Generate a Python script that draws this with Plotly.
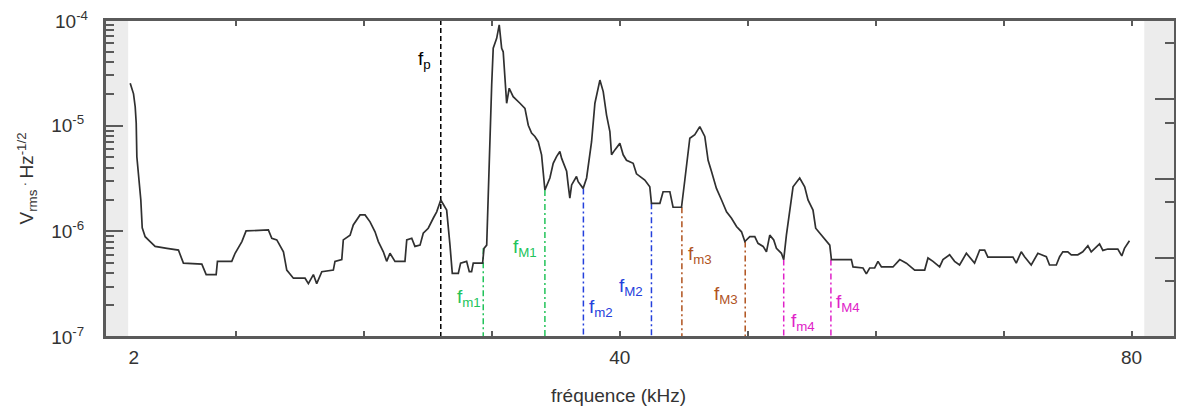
import plotly.graph_objects as go

# spectrum (kHz, V/sqrt(Hz))
freq_khz = [1.72, 1.98, 2.11, 2.19, 2.24, 2.37, 2.55, 2.66, 2.89, 3.28,
            3.67, 4.59, 5.49, 5.88, 7.32, 7.66, 8.44, 8.54, 9.66, 9.92,
            10.45, 10.78, 12.52, 12.79, 13.18, 13.70, 13.96, 14.48, 15.0,
            15.39, 15.65, 16.04, 16.30, 16.70, 17.60, 17.73, 18.26, 18.38, 18.91,
            19.16, 19.69, 20.08, 20.47, 20.86, 21.12, 21.51, 21.77, 22.03, 22.42,
            23.20, 23.34, 23.73, 23.98, 24.38, 24.63, 25.02, 25.41, 25.68, 26.0,
            26.46, 26.72, 26.90, 27.37, 27.55, 28.02, 28.23, 28.41, 28.54, 29.27,
            29.38, 29.59, 29.71, 29.84, 29.98, 30.10, 30.37, 30.57, 30.76, 30.88,
            31.02, 31.15, 31.35, 31.66, 32.19, 32.58, 32.84, 33.10, 33.36, 33.62,
            33.88, 34.01, 34.14, 34.53, 34.79, 35.05, 35.31, 35.45, 35.84, 35.96,
            36.09, 36.23, 36.61, 36.74, 37.13, 37.40, 37.52, 37.79, 38.05, 38.44,
            38.70, 38.96, 39.22, 39.35, 39.61, 40.0, 40.26, 40.52, 41.04, 41.30,
            41.95, 42.34, 42.47, 43.13, 43.38, 43.91, 44.16, 44.82, 45.08, 45.34,
            45.47, 45.86, 46.25, 46.64, 46.90, 47.16, 47.55, 47.95, 48.34, 48.73,
            49.12, 49.51, 49.77, 50.16, 50.55, 50.80, 51.20, 51.46, 51.72, 52.03,
            52.24, 52.63, 52.81, 53.02, 53.28, 53.54, 54.06, 54.45, 54.71, 55.10,
            55.31, 55.63, 56.02, 56.41, 56.54, 58.10, 58.23, 59.01, 59.27, 59.53,
            59.92, 60.18, 60.45, 61.35, 61.88, 62.40, 63.05, 63.83, 64.09, 64.48,
            65.0, 65.26, 65.78, 66.17, 66.56, 67.09, 67.73, 68.13, 68.52, 68.77,
            70.73, 70.99, 71.38, 71.64, 72.16, 72.68, 73.34, 73.59, 74.12, 74.38,
            74.63, 75.02, 75.29, 75.80, 76.19, 76.59, 76.85, 77.50, 77.76, 78.15,
            78.93, 79.24, 79.45, 79.84]

vrms = [2.52e-5, 2.0e-5, 1.51e-5, 1.06e-5, 5.08e-6, 3.56e-6, 1.98e-6, 1.08e-6, 8.9e-7, 8.0e-7,
        7.2e-7, 6.9e-7, 6.65e-7, 5.0e-7, 4.9e-7, 3.9e-7, 3.9e-7, 5.2e-7, 5.2e-7, 6.2e-7,
        8.0e-7, 1.01e-6, 1.03e-6, 8.6e-7, 8.3e-7, 6.4e-7, 4.3e-7, 3.6e-7, 3.6e-7,
        3.6e-7, 3.2e-7, 3.9e-7, 3.2e-7, 4.15e-7, 4.3e-7, 5.2e-7, 5.4e-7, 8.3e-7, 9.2e-7,
        1.15e-6, 1.43e-6, 1.43e-6, 1.23e-6, 9.9e-7, 8.0e-7, 6.4e-7, 5.2e-7, 6.2e-7, 5.2e-7,
        5.2e-7, 8.3e-7, 8.6e-7, 7.2e-7, 7.4e-7, 9.6e-7, 1.07e-6, 1.33e-6, 1.53e-6, 1.98e-6,
        1.59e-6, 7.4e-7, 4.0e-7, 4.0e-7, 5.0e-7, 5.2e-7, 4.15e-7, 4.15e-7, 5.0e-7, 5.0e-7,
        6.9e-7, 7.4e-7, 2.55e-6, 9.4e-6, 2.43e-5, 5.4e-5, 6.7e-5, 9.0e-5, 5.4e-5, 5.0e-5,
        2.9e-5, 1.63e-5, 2.26e-5, 1.88e-5, 1.63e-5, 1.46e-5, 1.01e-5, 8.5e-6, 7.9e-6, 7.05e-6,
        5.3e-6, 3.7e-6, 2.46e-6, 3.2e-6, 4.4e-6, 5.1e-6, 5.7e-6, 4.9e-6, 3.7e-6, 2.75e-6,
        2.06e-6, 2.75e-6, 3.3e-6, 2.95e-6, 2.55e-6, 3.2e-6, 3.95e-6, 7.05e-6, 1.63e-5, 2.7e-5,
        2.1e-5, 1.26e-5, 8.8e-6, 5.3e-6, 5.9e-6, 6.8e-6, 5.3e-6, 4.7e-6, 4.4e-6, 3.5e-6,
        3.06e-6, 2.64e-6, 1.84e-6, 1.84e-6, 2.37e-6, 2.37e-6, 1.69e-6, 1.69e-6, 3.06e-6, 5.5e-6,
        7.6e-6, 8.2e-6, 9.8e-6, 7.9e-6, 4.7e-6, 3.7e-6, 2.55e-6, 1.98e-6, 1.53e-6, 1.33e-6,
        1.11e-6, 9.9e-7, 8.0e-7, 8.9e-7, 8.9e-7, 7.7e-7, 7.2e-7, 6.4e-7, 9.2e-7, 8.3e-7,
        6.9e-7, 6.2e-7, 5.4e-7, 9.2e-7, 1.53e-6, 2.64e-6, 3.2e-6, 2.64e-6, 1.98e-6, 1.59e-6,
        1.07e-6, 9.6e-7, 8.3e-7, 7.4e-7, 5.4e-7, 5.4e-7, 4.6e-7, 4.5e-7, 3.95e-7, 4.5e-7,
        4.5e-7, 5.2e-7, 4.6e-7, 4.6e-7, 5.4e-7, 5.0e-7, 4.3e-7, 4.3e-7, 5.6e-7, 5.2e-7,
        4.6e-7, 5.4e-7, 6.0e-7, 5.2e-7, 4.8e-7, 6.2e-7, 5.0e-7, 6.65e-7, 6.65e-7, 5.7e-7,
        5.7e-7, 5.0e-7, 6.4e-7, 5.75e-7, 4.8e-7, 6.2e-7, 5.75e-7, 4.8e-7, 4.8e-7, 5.75e-7,
        6.4e-7, 6.4e-7, 6.0e-7, 6.0e-7, 6.4e-7, 7.3e-7, 6.4e-7, 7.6e-7, 6.6e-7, 6.8e-7,
        6.8e-7, 5.85e-7, 6.9e-7, 8.15e-7]

# marker frequencies (kHz) and where each dashed line starts
marker_names = ["p", "m1", "M1", "m2", "M2", "m3", "M3", "m4", "M4"]
marker_freq = [26.0, 29.32, 34.14, 37.15, 42.47, 44.85, 49.8, 52.81, 56.5]
marker_top = [1e-4, 6.9e-7, 2.46e-6, 2.55e-6, 1.84e-6, 1.69e-6, 8.0e-7, 5.4e-7, 5.4e-7]

x_labels = ["2", "40", "80"]
x_label_vals = [2, 40, 80]
y_tick_vals = [1e-7, 1e-6, 1e-5]
y_tick_text = ["10<sup>-7</sup>", "10<sup>-6</sup>", "10<sup>-5</sup>"]
y_top_text = "10<sup>-4</sup>"   # top tick label, plotly drops it at the range edge

# styles / label placement (xshift px, y paper)
marker_color = {"p": "black", "m1": "#22c35a", "M1": "#22c35a", "m2": "#2440dc", "M2": "#2440dc",
                "m3": "#b0531e", "M3": "#b0531e", "m4": "#e022c8", "M4": "#e022c8"}
label_pos = {"p": (-16, 0.874), "m1": (-14, 0.123), "M1": (-20, 0.281), "m2": (18, 0.091),
             "M2": (-20, 0.158), "m3": (18, 0.259), "M3": (-19, 0.132), "m4": (19, 0.047),
             "M4": (17, 0.107)}

FONT = "Liberation Sans, Arial, sans-serif"
AX = "#5a5a5a"
TXT = "#333333"
XR = [-0.25, 83.4]

fig = go.Figure()

for name, f, top in zip(marker_names, marker_freq, marker_top):
    dash = "5px,3px" if name == "p" else "6px,3px,2px,3px"
    fig.add_trace(go.Scatter(x=[f, f], y=[top, 1e-7], mode="lines",
                             line=dict(color=marker_color[name], width=1.5, dash=dash),
                             showlegend=False, hoverinfo="skip"))

fig.add_trace(go.Scatter(x=freq_khz, y=vrms, mode="lines",
                         line=dict(color="#303030", width=1.7),
                         showlegend=False))

# dummy traces so the extra axes get drawn
fig.add_trace(go.Scatter(x=[None], y=[None], xaxis="x2", yaxis="y2", showlegend=False))
fig.add_trace(go.Scatter(x=[None], y=[None], xaxis="x3", yaxis="y", showlegend=False))

for name, f in zip(marker_names, marker_freq):
    dx, yp = label_pos[name]
    fig.add_annotation(x=f, xref="x", y=yp, yref="paper", xshift=dx,
                       xanchor="center", yanchor="middle",
                       text=f"f<sub>{name}</sub>", showarrow=False,
                       font=dict(family=FONT, size=19, color=marker_color[name]))

# grey bands at both ends
fig.add_shape(type="rect", xref="x", yref="paper", x0=XR[0], x1=1.56, y0=0, y1=1,
              fillcolor="#ececec", line_width=0, layer="below")
fig.add_shape(type="rect", xref="x", yref="paper", x0=81.0, x1=XR[1], y0=0, y1=1,
              fillcolor="#ececec", line_width=0, layer="below")
# frame
fig.add_shape(type="rect", xref="paper", yref="paper", x0=0, x1=1, y0=0, y1=1,
              line=dict(color=AX, width=2), layer="above")

minor_y = [k * 10.0 ** e for e in range(-7, -4) for k in range(2, 10)]
x_ticks = [10, 20, 30, 40, 50, 60, 70, 80]

# page body adds an 8px margin, so the figure is 8px smaller and shifted back
fig.update_layout(
    width=1176, height=402,
    margin=dict(l=97, r=9, t=12, b=73),
    paper_bgcolor="white", plot_bgcolor="white",
    font=dict(family=FONT, size=18, color=TXT),
    xaxis=dict(range=XR, showgrid=False, zeroline=False, showline=True, linecolor=AX, linewidth=2,
               ticks="inside", tickvals=x_ticks,
               ticklen=6, tickwidth=1.5, tickcolor=AX, showticklabels=False, automargin=False),
    xaxis3=dict(range=XR, overlaying="x", anchor="y", side="top", showgrid=False,
                zeroline=False, showline=True, linecolor=AX, linewidth=2, ticks="inside",
                tickvals=x_ticks, ticklen=6, tickwidth=1.5, tickcolor=AX,
                showticklabels=False, automargin=False),
    xaxis2=dict(range=XR, overlaying="x", anchor="y", side="bottom", showgrid=False,
                zeroline=False, showline=False, ticks="", tickvals=x_label_vals,
                ticktext=x_labels, ticklabelstandoff=7, automargin=False,
                tickfont=dict(family=FONT, size=19, color=TXT)),
    yaxis=dict(type="log", range=[-7, -4], showgrid=False, zeroline=False, showline=True,
               linecolor=AX, linewidth=2, mirror=False, ticks="inside", ticklen=18, tickwidth=1.5,
               tickcolor=AX, tickvals=y_tick_vals, ticktext=y_tick_text,
               ticklabelstandoff=15, automargin=False,
               tickfont=dict(family=FONT, size=19, color=TXT),
               minor=dict(tickmode="array", tickvals=minor_y, ticks="inside", ticklen=9,
                          tickwidth=1.5, tickcolor=AX, showgrid=False)),
    yaxis2=dict(range=[0, 1], overlaying="y", anchor="x", side="right", showgrid=False,
                zeroline=False, showline=True, linecolor=AX, linewidth=2, ticks="inside",
                tickvals=[0.25, 0.5, 0.75], ticklen=20, tickwidth=1.5, tickcolor=AX,
                showticklabels=False, automargin=False,
                minor=dict(tickmode="array", tickvals=[0.177, 0.426, 0.675, 0.927], ticks="inside",
                           ticklen=10, tickwidth=1.5, tickcolor=AX, showgrid=False)),
)

fig.add_annotation(x=0, xref="paper", y=1, yref="paper", xshift=-15, xanchor="right",
                   yanchor="middle", text=y_top_text, showarrow=False,
                   font=dict(family=FONT, size=19, color=TXT))
fig.add_annotation(x=0, xref="paper", y=0.5, yref="paper", xshift=-78, xanchor="center",
                   yanchor="middle", textangle=-90,
                   text="V<sub>rms</sub><sup> . </sup>Hz<sup>-1/2</sup>", showarrow=False,
                   font=dict(family=FONT, size=19, color=TXT))
fig.add_annotation(x=0.48, xref="paper", y=0, yref="paper", yshift=-58, yanchor="middle",
                   text="fréquence (kHz)", showarrow=False,
                   font=dict(family=FONT, size=19, color=TXT))

fig.write_html("out.html")
